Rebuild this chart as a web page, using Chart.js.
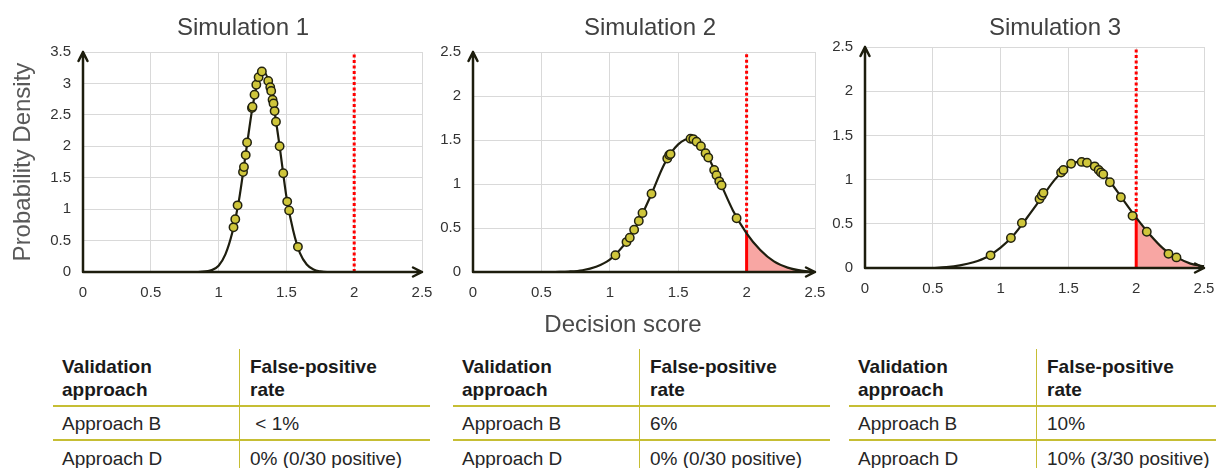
<!DOCTYPE html>
<html>
<head>
<meta charset="utf-8">
<script src="https://cdn.jsdelivr.net/npm/chart.js@4.4.1/dist/chart.umd.min.js"></script>
<style>
  body { margin: 0; background: #fff; font-family: 'Liberation Sans', Arial, sans-serif; }
  #wrap { position: relative; width: 1216px; height: 468px; overflow: hidden; }
  #wrap canvas { position: absolute; top: 0; }
  .title { position: absolute; top: 12px; line-height: 30px; font-size: 24px; color: #404040; transform: translateX(-50%); white-space: nowrap; }
  .xtitle { position: absolute; top: 309px; left: 623px; line-height: 30px; font-size: 24px; color: #4a4a4a; transform: translateX(-50%); white-space: nowrap; }
  .tbl { position: absolute; top: 349px; font-size: 19px; color: #262626; }
  .row { display: flex; box-sizing: border-box; height: 34px; border-bottom: 2px solid #c6be34; }
  .row.head { height: 58px; font-weight: bold; line-height: 23px; color: #1a1a1a; }
  .row.last { border-bottom: none; }
  .row > div { display: flex; align-items: center; box-sizing: border-box; white-space: nowrap; padding-top: 2px; }
  .row.head > div { align-items: flex-start; padding-top: 6px; }
  .c1 { padding-left: 9px; border-right: 1.5px solid #c6be34; flex-shrink: 0; }
  .c2 { padding-left: 10px; flex: 1; }
</style>
</head>
<body>
<div id="wrap">
  <canvas id="sim1" width="446" height="310" style="left:0px;width:446px;height:310px"></canvas>
  <canvas id="sim2" width="399" height="310" style="left:440px;width:399px;height:310px"></canvas>
  <canvas id="sim3" width="399" height="310" style="left:830px;width:399px;height:310px"></canvas>
  <div class="title" style="left:243px">Simulation 1</div>
  <div class="title" style="left:650px">Simulation 2</div>
  <div class="title" style="left:1055px">Simulation 3</div>
  <div class="xtitle">Decision score</div>
  <div id="tables"></div>
</div>
<script>
// axis ticks
const xTicks = [0, 0.5, 1, 1.5, 2, 2.5];
const yTicksSim1 = [0, 0.5, 1, 1.5, 2, 2.5, 3, 3.5];
const yTicksSim23 = [0, 0.5, 1, 1.5, 2, 2.5];
const threshold = 2;

// Simulation 1 - fitted density and sample scores
const sim1CurveX = [0.85, 0.95, 1.0, 1.05, 1.1, 1.15, 1.2, 1.25, 1.3, 1.33, 1.37, 1.4, 1.45, 1.5, 1.55, 1.6, 1.65, 1.7, 1.75, 1.8, 2.0];
const sim1CurveY = [0, 0.03, 0.1, 0.28, 0.62, 1.14, 1.88, 2.62, 3.12, 3.19, 3.03, 2.72, 2.0, 1.2, 0.66, 0.3, 0.12, 0.04, 0.01, 0, 0];
const sim1DotX = [1.11, 1.123, 1.14, 1.18, 1.187, 1.2, 1.21, 1.246, 1.25, 1.265, 1.278, 1.295, 1.319, 1.366, 1.381, 1.388, 1.398, 1.405, 1.413, 1.423, 1.45, 1.477, 1.506, 1.52, 1.585];
const sim1DotY = [0.71, 0.84, 1.06, 1.59, 1.67, 1.86, 2.06, 2.61, 2.63, 2.82, 2.98, 3.1, 3.19, 3.04, 2.94, 2.88, 2.74, 2.68, 2.56, 2.39, 2.0, 1.57, 1.12, 0.98, 0.4];

// Simulation 2
const sim2CurveX = [0.6, 0.7, 0.8, 0.9, 1.0, 1.1, 1.2, 1.3, 1.4, 1.5, 1.6, 1.7, 1.8, 1.9, 2.0, 2.1, 2.2, 2.3, 2.4, 2.5];
const sim2CurveY = [0, 0.005, 0.02, 0.06, 0.14, 0.3, 0.54, 0.87, 1.23, 1.45, 1.52, 1.36, 1.04, 0.7, 0.44, 0.25, 0.12, 0.05, 0.015, 0];
const sim2DotX = [1.041, 1.122, 1.146, 1.178, 1.212, 1.239, 1.305, 1.42, 1.434, 1.444, 1.59, 1.61, 1.634, 1.666, 1.7, 1.72, 1.763, 1.78, 1.8, 1.817, 1.927];
const sim2DotY = [0.19, 0.34, 0.39, 0.48, 0.58, 0.67, 0.89, 1.29, 1.33, 1.34, 1.515, 1.51, 1.48, 1.43, 1.35, 1.3, 1.16, 1.1, 1.03, 0.985, 0.61];

// Simulation 3
const sim3CurveX = [0.5, 0.6, 0.7, 0.8, 0.9, 1.0, 1.1, 1.2, 1.3, 1.4, 1.5, 1.6, 1.7, 1.8, 1.9, 2.0, 2.1, 2.2, 2.3, 2.4, 2.5];
const sim3CurveY = [0, 0.01, 0.03, 0.065, 0.125, 0.23, 0.38, 0.58, 0.79, 1.0, 1.15, 1.21, 1.15, 0.99, 0.78, 0.57, 0.38, 0.22, 0.12, 0.05, 0.02];
const sim3DotX = [0.926, 1.076, 1.157, 1.287, 1.304, 1.316, 1.446, 1.463, 1.52, 1.598, 1.637, 1.694, 1.723, 1.74, 1.757, 1.806, 1.887, 1.973, 2.078, 2.238, 2.297];
const sim3DotY = [0.143, 0.34, 0.51, 0.78, 0.82, 0.85, 1.08, 1.11, 1.18, 1.2, 1.19, 1.15, 1.11, 1.08, 1.06, 0.97, 0.8, 0.59, 0.41, 0.16, 0.12];

// tables under the charts
const tableLeft = [53, 453, 849];
const headCol1 = ['Validation', 'approach'];
const headCol2 = ['False-positive', 'rate'];
const approaches = ['Approach B', 'Approach D'];
const rateB = ['\u00a0< 1%', '6%', '10%'];
const rateD = ['0% (0/30 positive)', '0% (0/30 positive)', '10% (3/30 positive)'];

const FONT = "'Liberation Sans', Arial, sans-serif";

function pts(xs, ys) {
    return xs.map((x, i) => ({ x: x, y: ys[i] }));
}

// axes with open arrow heads
const arrowAxes = {
    id: 'arrowAxes',
    afterDatasetsDraw(chart) {
        const ctx = chart.ctx;
        const a = chart.chartArea;
        ctx.save();
        ctx.strokeStyle = '#1d1d0d';
        ctx.lineWidth = 2.5;
        ctx.lineCap = 'round';
        ctx.lineJoin = 'round';
        ctx.beginPath();
        ctx.moveTo(a.left, a.bottom);
        ctx.lineTo(a.left, a.top);
        ctx.moveTo(a.left - 4.5, a.top + 9);
        ctx.lineTo(a.left, a.top);
        ctx.lineTo(a.left + 4.5, a.top + 9);
        ctx.moveTo(a.left, a.bottom);
        ctx.lineTo(a.right, a.bottom);
        ctx.moveTo(a.right - 9, a.bottom - 4.5);
        ctx.lineTo(a.right, a.bottom);
        ctx.lineTo(a.right - 9, a.bottom + 4.5);
        ctx.stroke();
        ctx.restore();
    }
};

function buildChart(id, cfg) {
    const curve = pts(cfg.curveX, cfg.curveY);
    const tail = curve.filter(p => p.x >= threshold);
    const yAtT = cfg.curveY[cfg.curveX.indexOf(threshold)];
    const yMax = cfg.yTicks[cfg.yTicks.length - 1];
    const tickFont = { size: 15, family: FONT };

    return new Chart(document.getElementById(id), {
        type: 'scatter',
        data: {
            datasets: [
                {
                    data: pts(cfg.dotX, cfg.dotY),
                    showLine: false,
                    pointRadius: 4.2,
                    pointBackgroundColor: '#cfc63b',
                    pointBorderColor: '#23230f',
                    pointBorderWidth: 1.5
                },
                {
                    data: curve,
                    showLine: true,
                    borderColor: '#1e1e0f',
                    borderWidth: 2.2,
                    pointRadius: 0,
                    cubicInterpolationMode: 'monotone',
                    fill: false
                },
                {
                    data: [{ x: threshold, y: 0 }, { x: threshold, y: yAtT }],
                    showLine: true,
                    borderColor: '#ff0000',
                    borderWidth: 3,
                    pointRadius: 0
                },
                {
                    data: [{ x: threshold, y: yAtT }, { x: threshold, y: yMax }],
                    showLine: true,
                    borderColor: '#ff0000',
                    borderWidth: 3,
                    borderDash: [3, 2.5],
                    pointRadius: 0
                },
                {
                    data: tail,
                    showLine: true,
                    borderWidth: 0,
                    borderColor: 'rgba(0,0,0,0)',
                    backgroundColor: '#f8a6a3',
                    fill: 'origin',
                    pointRadius: 0,
                    cubicInterpolationMode: 'monotone'
                }
            ]
        },
        options: {
            responsive: false,
            animation: false,
            events: [],
            layout: { padding: cfg.padding },
            plugins: { legend: { display: false }, tooltip: { enabled: false } },
            scales: {
                x: {
                    type: 'linear',
                    min: 0,
                    max: 2.5,
                    afterBuildTicks: s => { s.ticks = xTicks.map(v => ({ value: v })); },
                    afterFit: s => { s.height = 30; },
                    grid: { color: '#d9d9d9', lineWidth: 1, drawTicks: false },
                    border: { display: false },
                    ticks: { padding: 12, color: '#333', font: tickFont, callback: v => String(v) }
                },
                y: {
                    type: 'linear',
                    min: 0,
                    max: yMax,
                    afterBuildTicks: s => { s.ticks = cfg.yTicks.map(v => ({ value: v })); },
                    afterFit: s => { s.width = cfg.yWidth; },
                    grid: { color: '#d9d9d9', lineWidth: 1, drawTicks: false },
                    border: { display: false },
                    ticks: { padding: 12, color: '#333', font: tickFont, callback: v => String(v) },
                    title: {
                        display: !!cfg.yTitle,
                        text: cfg.yTitle || '',
                        color: '#595959',
                        font: { size: 24, family: FONT },
                        padding: { top: 9, bottom: 0 }
                    }
                }
            }
        },
        plugins: [arrowAxes]
    });
}

buildChart('sim1', {
    curveX: sim1CurveX, curveY: sim1CurveY, dotX: sim1DotX, dotY: sim1DotY,
    yTicks: yTicksSim1, yWidth: 83, yTitle: 'Probability Density',
    padding: { left: 0, right: 24, top: 52, bottom: 8 }
});
buildChart('sim2', {
    curveX: sim2CurveX, curveY: sim2CurveY, dotX: sim2DotX, dotY: sim2DotY,
    yTicks: yTicksSim23, yWidth: 33,
    padding: { left: 0, right: 24, top: 52, bottom: 8 }
});
buildChart('sim3', {
    curveX: sim3CurveX, curveY: sim3CurveY, dotX: sim3DotX, dotY: sim3DotY,
    yTicks: yTicksSim23, yWidth: 35,
    padding: { left: 0, right: 25, top: 47, bottom: 12 }
});

// result tables
function cell(cls, width, lines) {
    const d = document.createElement('div');
    d.className = cls;
    if (width) d.style.width = width + 'px';
    lines.forEach((txt, k) => {
        if (k > 0) d.appendChild(document.createElement('br'));
        d.appendChild(document.createTextNode(txt));
    });
    if (lines.length > 1) d.style.flexDirection = 'column';
    return d;
}

const tables = document.getElementById('tables');
tableLeft.forEach((left, i) => {
    const col1 = i === 2 ? 188 : 187;
    const t = document.createElement('div');
    t.className = 'tbl';
    t.style.left = left + 'px';
    t.style.width = '377px';
    const rows = [
        [headCol1, headCol2, 'row head'],
        [[approaches[0]], [rateB[i]], 'row'],
        [[approaches[1]], [rateD[i]], 'row last']
    ];
    rows.forEach(r => {
        const row = document.createElement('div');
        row.className = r[2];
        row.appendChild(cell('c1', col1, r[0]));
        row.appendChild(cell('c2', 0, r[1]));
        t.appendChild(row);
    });
    tables.appendChild(t);
});
</script>
</body>
</html>
